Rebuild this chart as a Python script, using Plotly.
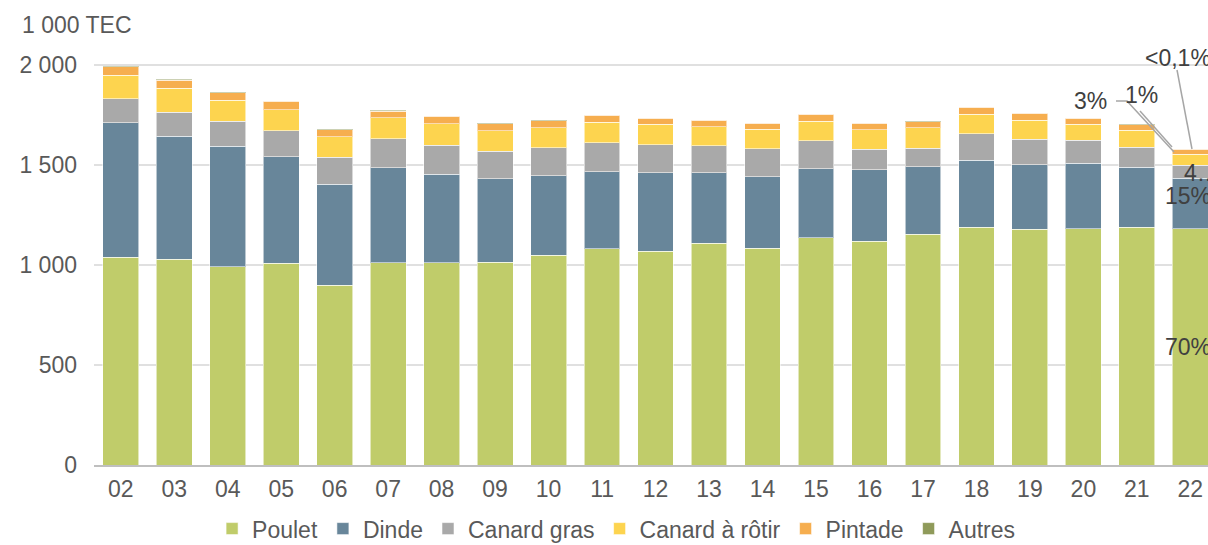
import plotly.graph_objects as go

years = ["02", "03", "04", "05", "06", "07", "08", "09", "10", "11",
         "12", "13", "14", "15", "16", "17", "18", "19", "20", "21", "22"]

poulet = [1038, 1028, 992, 1008, 900, 1011, 1012, 1015, 1050, 1082,
          1070, 1110, 1083, 1137, 1118, 1155, 1190, 1178, 1182, 1190, 1182]
dinde = [674, 617, 603, 534, 505, 476, 441, 417, 397, 385,
         392, 352, 359, 345, 359, 337, 335, 324, 328, 300, 253]
canard_gras = [120, 118, 123, 130, 135, 145, 147, 138, 140, 145,
               140, 135, 140, 140, 101, 93, 132, 128, 115, 98, 65]
canard_rotir = [118, 120, 107, 105, 102, 105, 107, 102, 100, 103,
                101, 95, 96, 98, 99, 102, 98, 95, 80, 85, 55]
pintade = [42, 42, 37, 42, 35, 32, 36, 34, 34, 33,
           30, 31, 30, 33, 31, 29, 35, 33, 28, 29, 23]
autres = [3, 3, 3, 3, 3, 5, 2, 2, 2, 2,
          2, 2, 2, 2, 2, 2, 2, 2, 2, 2, 1]

series_names = ["Poulet", "Dinde", "Canard gras", "Canard à rôtir", "Pintade", "Autres"]
series_values = [poulet, dinde, canard_gras, canard_rotir, pintade, autres]
series_colors = ["#c0cc6a", "#68869a", "#a9a9a9", "#fdd44f", "#f6ae4f", "#8f9a5a"]

share_labels = ["70%", "15%", "4…", "3%", "1%", "<0,1%"]

y_tickvals = [0, 500, 1000, 1500, 2000]
y_ticktext = ["0", "500", "1 000", "1 500", "2 000"]

TXT = "#595959"
FONT = "Liberation Sans, Arial, sans-serif"
FS = 23

W, H = 1208, 545
ML, MT, MB = 94, 45, 80
XMAX = 20.33
YMAX = 2100

fig = go.Figure()
for name, vals, col in zip(series_names, series_values, series_colors):
    fig.add_trace(go.Bar(
        x=years, y=vals, name=name,
        marker=dict(color=col, line=dict(color="rgba(255,255,255,0.55)", width=1)),
    ))

last = len(years) - 1
cum = []
s = 0
for vals in series_values:
    cum.append((s, s + vals[last]))
    s += vals[last]

ann = []
ann.append(dict(x=last, y=(cum[0][0] + cum[0][1]) / 2, text=share_labels[0],
                xanchor="left", xshift=-27, showarrow=False))
ann.append(dict(x=last, y=(cum[1][0] + cum[1][1]) / 2, text=share_labels[1],
                xanchor="left", xshift=-27, yshift=7, showarrow=False))
ann.append(dict(x=last, y=cum[2][1], text=share_labels[2],
                xanchor="left", xshift=-8, yshift=-8, showarrow=False))
ann.append(dict(x=last, y=cum[5][1], text=share_labels[3],
                xanchor="center", xshift=-100, yshift=48, showarrow=False))
ann.append(dict(x=last, y=cum[5][1], text=share_labels[4],
                xanchor="center", xshift=-49, yshift=54, showarrow=False))
ann.append(dict(x=last, y=cum[5][1], text=share_labels[5],
                xanchor="left", xshift=-47, yshift=91, showarrow=False))
for a in ann:
    a.update(xref="x", yref="y", font=dict(size=FS, color="#404040", family=FONT))

ann.append(dict(x=(20 - ML) / (W - ML), y=(H - MB - 25) / (H - MB - MT),
                xref="paper", yref="paper", text="1 000 TEC",
                showarrow=False, xanchor="left", yanchor="middle",
                font=dict(size=FS, color=TXT, family=FONT)))

fig.update_layout(annotations=ann)

def px2x(px):
    return -0.5 + (px - ML) / ((W - ML) / (XMAX + 0.5))

def px2y(py):
    return (H - MB - py) * YMAX / (H - MB - MT)

lc = dict(color="#a6a6a6", width=1.5)
shapes = [
    dict(type="line", x0=px2x(1177), y0=px2y(70), x1=px2x(1192), y1=px2y(149), line=lc),
    dict(type="path",
         path=f"M {px2x(1116)} {px2y(101)} L {px2x(1127)} {px2y(101)} L {px2x(1174)} {px2y(152)}",
         line=lc),
    dict(type="line", x0=px2x(1140), y0=px2y(111), x1=px2x(1172), y1=px2y(147), line=lc),
]
for sh in shapes:
    sh.update(xref="x", yref="y", layer="above")

fig.update_layout(
    shapes=shapes,
    barmode="stack",
    bargap=0.33,
    width=W, height=H,
    margin=dict(l=ML, r=0, t=MT, b=MB, autoexpand=False),
    paper_bgcolor="white", plot_bgcolor="white",
    font=dict(family=FONT, size=FS, color=TXT),
    showlegend=True,
    legend=dict(orientation="h", xref="container", x=0.51, xanchor="center",
                yref="container", y=0.03, yanchor="middle",
                font=dict(size=FS, color=TXT, family=FONT), itemwidth=30,
                traceorder="normal", tracegroupgap=0),
    xaxis=dict(type="category", range=[-0.5, XMAX], showgrid=False,
               showline=True, linecolor="#bfbfbf", linewidth=1.5,
               ticks="", ticklabelstandoff=3,
               tickfont=dict(size=FS, color=TXT, family=FONT)),
    yaxis=dict(range=[0, YMAX], tickvals=y_tickvals, ticktext=y_ticktext,
               showgrid=True, gridcolor="rgba(0,0,0,0.12)", gridwidth=1.5,
               zeroline=False, showline=False, ticks="", ticklabelstandoff=16,
               layer="above traces",
               tickfont=dict(size=FS, color=TXT, family=FONT)),
)

fig.write_html("out.html", config={"displayModeBar": False},
               post_script="document.body.style.margin='0';")
